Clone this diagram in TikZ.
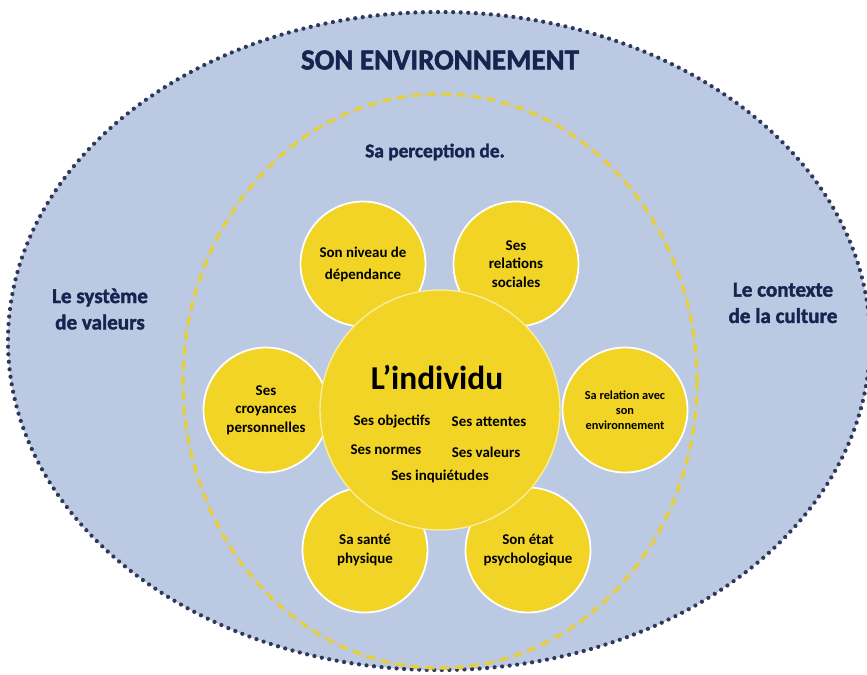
\documentclass[tikz,border=0pt]{standalone}
\usepackage{fontspec}
\setmainfont{Carlito}
\newfontfamily\heavyfont{Carlito}[BoldFeatures={FakeBold=1.8}]
\usetikzlibrary{positioning}
\definecolor{envfill}{RGB}{188,201,227}
\definecolor{dotnavy}{RGB}{46,56,90}
\definecolor{textnavy}{RGB}{22,36,80}
\definecolor{petalyellow}{RGB}{241,212,38}
\definecolor{dashyellow}{RGB}{230,206,60}
\tikzstyle{petal} = [circle, fill=petalyellow, draw=white, line width=1pt, minimum size=2.5cm, inner sep=0pt, align=center, font=\fontsize{8.5}{10.5}\selectfont\bfseries]
\tikzstyle{core} = [circle, fill=petalyellow, draw=white!55!petalyellow, line width=0.8pt, minimum size=4.8cm, inner sep=0pt]
\tikzstyle{item} = [font=\fontsize{8.5}{10}\selectfont\bfseries, inner sep=1pt]
\tikzstyle{heading} = [text=textnavy, align=center, font=\heavyfont\bfseries\fontsize{12}{15}\selectfont]
\begin{document}
\begin{tikzpicture}[x=0.02cm, y=-0.02cm]
\clip (0,0) rectangle (867,674);
% environnement
\draw [fill=envfill, draw=dotnavy, line width=2.4pt, line cap=round, dash pattern=on 0pt off 4.3pt] (439,341) ellipse [x radius=431, y radius=329];
\draw [dashyellow, line width=1.8pt, dash pattern=on 5.5pt off 3pt] (440,381) ellipse [x radius=257, y radius=287];

\node (Niveau) [petal] at (363,264) {Son niveau de\\[2pt]dépendance};
\node (Relations) [petal] at (516,264) {Ses\\relations\\sociales};
\node (Croyances) [petal] at (266,410) {Ses\\croyances\\personnelles};
\node (RelEnv) [petal, font=\fontsize{7}{8.5}\selectfont\bfseries] at (625,410) {Sa relation avec\\son\\environnement};
\node (Sante) [petal] at (365,550) {Sa santé\\physique};
\node (Etat) [petal] at (528,550) {Son état\\psychologique};

\node (Individu) [core] at (440,410) {};
\node (Nom) [font=\bfseries\fontsize{19}{22}\selectfont] at (437,377) {L’individu};
\node (Objectifs) [item] at (392,422) {Ses objectifs};
\node (Attentes) [item] at (489,422) {Ses attentes};
\node (Normes) [item] at (386,450) {Ses normes};
\node (Valeurs) [item] at (486,452) {Ses valeurs};
\node (Inquietudes) [item] at (440,476) {Ses inquiétudes};

\node (Titre) [heading, font=\heavyfont\bfseries\fontsize{16.5}{19}\selectfont] at (440,60) {SON ENVIRONNEMENT};
\node (Perception) [heading, font=\heavyfont\bfseries\fontsize{11}{13}\selectfont] at (435,152) {Sa perception de.};
\node (Systeme) [heading] at (100,309) {Le système\\de valeurs};
\node (Culture) [heading] at (783,303) {Le contexte\\de la culture};
\end{tikzpicture}
\end{document}
